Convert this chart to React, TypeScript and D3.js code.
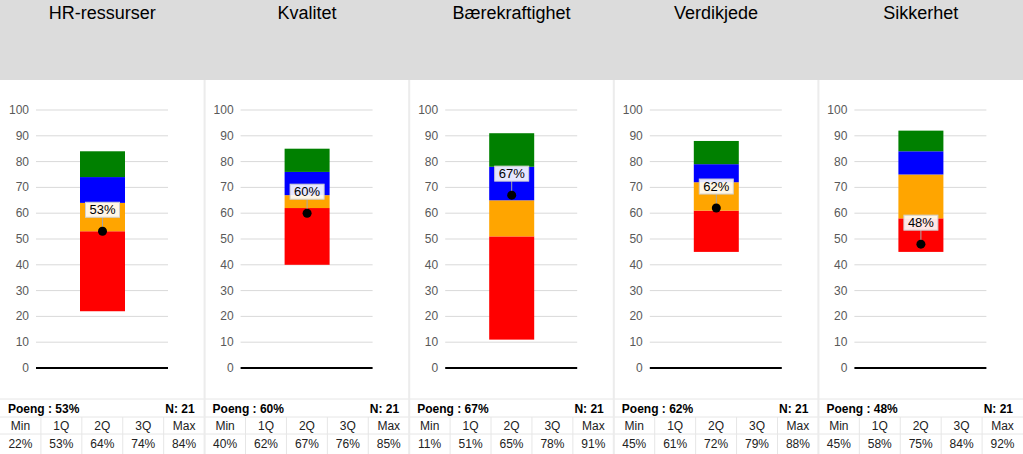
import React from "react";
import * as d3 from "d3";

const categories = ["HR-ressurser", "Kvalitet", "Bærekraftighet", "Verdikjede", "Sikkerhet"];
const minValues = [22, 40, 11, 45, 45];
const q1Values = [53, 62, 51, 61, 58];
const q2Values = [64, 67, 65, 72, 75];
const q3Values = [74, 76, 78, 79, 84];
const maxValues = [84, 85, 91, 88, 92];
const poengValues = [53, 60, 67, 62, 48];
const nValues = [21, 21, 21, 21, 21];
const yTicks = [0, 10, 20, 30, 40, 50, 60, 70, 80, 90, 100];
const statLabels = ["Min", "1Q", "2Q", "3Q", "Max"];
const segmentColors = ["#ff0000", "#ffa500", "#0000ff", "#008000"];

const W = 1023;
const H = 454;
const FONT = "'Liberation Sans', Arial, sans-serif";

export default function App() {
  const xPanel = d3.scaleBand<string>().domain(categories).range([0, W]);
  const pw = xPanel.bandwidth();
  const y = d3.scaleLinear().domain([0, 100]).range([368, 110]);
  const gridX0 = 36;
  const gridX1 = 168;
  const barX0 = 80;
  const barW = 45;
  const cx = barX0 + barW / 2;
  const cellW = d3.scaleBand<string>().domain(statLabels).range([0, pw]);

  return (
    <svg
      width={W}
      height={H}
      style={{ position: "fixed", left: 0, top: 0, background: "#fff" }}
      fontFamily={FONT}
    >
      <rect x={0} y={0} width={W} height={80} fill="#dcdcdc" />
      {categories.map((cat, i) => {
        const ox = xPanel(cat) as number;
        const stats = [minValues[i], q1Values[i], q2Values[i], q3Values[i], maxValues[i]];
        const p = poengValues[i];
        return (
          <g key={cat} transform={`translate(${ox},0)`}>
            <text x={pw / 2} y={19} textAnchor="middle" fontSize={18} fill="#000">
              {cat}
            </text>
            {yTicks.map((t) => (
              <g key={t}>
                {t > 0 && (
                  <line x1={gridX0} x2={gridX1} y1={y(t)} y2={y(t)} stroke="#d9d9d9" strokeWidth={1} />
                )}
                <text x={29} y={y(t) + 4} textAnchor="end" fontSize={12} fill="#595959">
                  {t}
                </text>
              </g>
            ))}
            {segmentColors.map((c, k) => (
              <rect
                key={k}
                x={barX0}
                width={barW}
                y={y(stats[k + 1])}
                height={y(stats[k]) - y(stats[k + 1])}
                fill={c}
              />
            ))}
            <line x1={gridX0} x2={gridX1} y1={y(0)} y2={y(0)} stroke="#000" strokeWidth={2} />
            <line x1={cx} x2={cx} y1={y(p) - 14} y2={y(p)} stroke="#a6a6a6" strokeWidth={1} />
            <circle cx={cx} cy={y(p)} r={4.5} fill="#000" />
            <rect x={cx - 17} y={y(p) - 29} width={34} height={15} fill="#fff" fillOpacity={0.9} stroke="#d0d0d0" strokeWidth={1} />
            <text x={cx} y={y(p) - 17} textAnchor="middle" fontSize={13} fill="#000">
              {`${p}%`}
            </text>
            {/* footer */}
            <line x1={0} x2={pw} y1={399} y2={399} stroke="#e6e6e6" />
            <line x1={0} x2={pw} y1={417} y2={417} stroke="#e6e6e6" />
            <line x1={0} x2={pw} y1={434} y2={434} stroke="#e6e6e6" />
            <text x={8} y={413} fontSize={12} fontWeight="bold" fill="#000">
              {`Poeng : ${p}%`}
            </text>
            <text x={pw - 10} y={413} fontSize={12} fontWeight="bold" fill="#000" textAnchor="end">
              {`N: ${nValues[i]}`}
            </text>
            {statLabels.map((lab, k) => {
              const cxk = (cellW(lab) as number) + cellW.bandwidth() / 2;
              return (
                <g key={lab}>
                  {k > 0 && (
                    <line
                      x1={cellW(lab) as number}
                      x2={cellW(lab) as number}
                      y1={417}
                      y2={H}
                      stroke="#e6e6e6"
                    />
                  )}
                  <text x={cxk} y={430} textAnchor="middle" fontSize={12} fill="#222">
                    {lab}
                  </text>
                  <text x={cxk} y={448} textAnchor="middle" fontSize={12} fill="#222">
                    {`${stats[k]}%`}
                  </text>
                </g>
              );
            })}
            {i > 0 && <rect x={-1} y={80} width={2} height={H - 80} fill="#ececec" />}
          </g>
        );
      })}
    </svg>
  );
}
